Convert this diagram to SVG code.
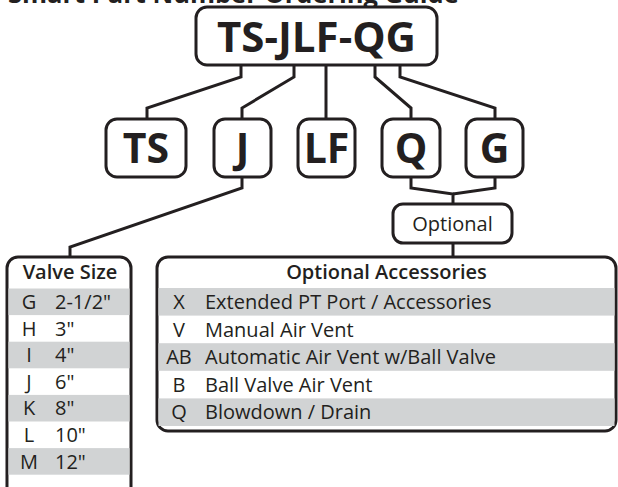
<svg xmlns="http://www.w3.org/2000/svg" width="618" height="487" viewBox="0 0 618 487">
<style>
text{font-family:"Open Sans","Noto Sans","Liberation Sans",sans-serif;fill:#231f20}
.box{fill:#fff;stroke:#231f20;stroke-width:3}
.big{font-size:41px;font-weight:700;text-anchor:middle}
.hd{font-size:20px;font-weight:600;text-anchor:middle}
.row{font-size:20px}
.c{text-anchor:middle}
.g{fill:#d1d3d4}
.ln{fill:none;stroke:#231f20;stroke-width:3}
</style>
<text x="8" y="3" style="font-size:25.5px;font-weight:700">Smart Part Number Ordering Guide</text>
<g id="connectors">
<path class="ln" d="M241,65V77L147,108V119"/>
<path class="ln" d="M294,65V77L242,108V119"/>
<path class="ln" d="M326,65V119"/>
<path class="ln" d="M375,65V77L411,108V119"/>
<path class="ln" d="M400,65V77L495,108V119"/>
<path class="ln" d="M242,177V188L70,247V257"/>
<path class="ln" d="M411,177V188L453,194V204"/>
<path class="ln" d="M495,177V188L453,194"/>
<path class="ln" d="M453,243V257"/>
</g>
<g id="main">
<rect class="box" x="196" y="7" width="241" height="58" rx="11"/>
<text class="big" x="316.5" y="51.5" style="font-size:42px">TS-JLF-QG</text>
</g>
<g id="node-ts"><rect class="box" x="106" y="119" width="80" height="58" rx="11"/><text class="big" x="146" y="163">TS</text></g>
<g id="node-j"><rect class="box" x="214" y="119" width="57" height="58" rx="11"/><text class="big" x="242.5" y="163">J</text></g>
<g id="node-lf"><rect class="box" x="298" y="119" width="57" height="58" rx="11"/><text class="big" x="326.5" y="163">LF</text></g>
<g id="node-q"><rect class="box" x="382" y="119" width="58" height="58" rx="11"/><text class="big" x="411" y="163">Q</text></g>
<g id="node-g"><rect class="box" x="466" y="119" width="57" height="58" rx="11"/><text class="big" x="494.5" y="163">G</text></g>
<g id="optional"><rect class="box" x="393" y="204" width="119" height="39" rx="10"/><text class="row c" x="452.5" y="230.5">Optional</text></g>
<g id="valve-size">
<rect class="box" x="7" y="257" width="124" height="250" rx="11"/>
<rect class="g" x="8.5" y="288.5" width="121" height="26.6"/>
<rect class="g" x="8.5" y="341.7" width="121" height="26.6"/>
<rect class="g" x="8.5" y="394.9" width="121" height="26.6"/>
<rect class="g" x="8.5" y="448.1" width="121" height="26.6"/>
<text class="hd" x="70" y="279">Valve Size</text>
<g class="row">
<text class="c" x="29" y="309">G</text><text x="55" y="309">2-1/2"</text>
<text class="c" x="29" y="335.6">H</text><text x="55" y="335.6">3"</text>
<text class="c" x="29" y="362.2">I</text><text x="55" y="362.2">4"</text>
<text class="c" x="29" y="388.8">J</text><text x="55" y="388.8">6"</text>
<text class="c" x="29" y="415.4">K</text><text x="55" y="415.4">8"</text>
<text class="c" x="29" y="442">L</text><text x="55" y="442">10"</text>
<text class="c" x="29" y="468.6">M</text><text x="55" y="468.6">12"</text>
</g>
</g>
<g id="accessories">
<rect class="box" x="157" y="257" width="459" height="174" rx="11"/>
<rect class="g" x="158.5" y="288" width="456" height="27.6"/>
<rect class="g" x="158.5" y="343.2" width="456" height="27.6"/>
<rect class="g" x="158.5" y="398.4" width="456" height="27.6"/>
<text class="hd" x="386.5" y="279">Optional Accessories</text>
<g class="row">
<text class="c" x="179" y="309">X</text><text x="205" y="309">Extended PT Port / Accessories</text>
<text class="c" x="179" y="336.6">V</text><text x="205" y="336.6">Manual Air Vent</text>
<text class="c" x="179" y="364.2">AB</text><text x="205" y="364.2">Automatic Air Vent w/Ball Valve</text>
<text class="c" x="179" y="391.8">B</text><text x="205" y="391.8">Ball Valve Air Vent</text>
<text class="c" x="179" y="419.4">Q</text><text x="205" y="419.4">Blowdown / Drain</text>
</g>
</g>
</svg>
